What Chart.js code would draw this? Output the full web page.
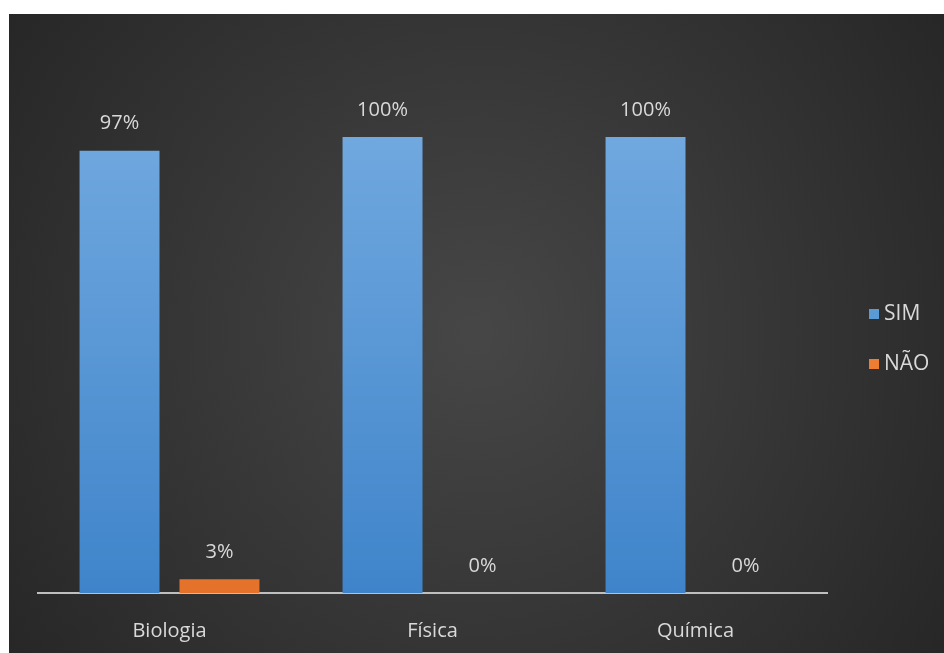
<!DOCTYPE html>
<html>
	<head>
		<meta charset="utf-8">
		<title>SIM / NÃO</title>
		<style>
			html, body { margin: 0; padding: 0; background: #ffffff; }
			#wrap { position: absolute; left: 9px; top: 14px; width: 935px; height: 639px; }
		</style>
	</head>
	<body>
		<div id="wrap"><canvas id="canvasChart"></canvas></div>

		<script src="https://cdn.jsdelivr.net/npm/chart.js"></script>
		<script>
			var categories = ['Biologia', 'Física', 'Química'];
			var simValues = [97, 100, 100];
			var naoValues = [3, 0, 0];
			var seriesNames = ['SIM', 'NÃO'];

			var textColor = '#d9d9d9';
			var fontName = "'Open Sans', sans-serif";

			// vertical gradient for bars, built from the chart area
			function barGradient(ctx, top, bottom) {
				var chart = ctx.chart;
				var area = chart.chartArea;
				if (!area) return bottom;
				var g = chart.ctx.createLinearGradient(0, area.top, 0, area.bottom);
				g.addColorStop(0, top);
				g.addColorStop(1, bottom);
				return g;
			}

			// dark radial background
			var backgroundPlugin = {
				id: 'bg',
				beforeDraw: function(chart) {
					var c = chart.ctx;
					var w = chart.width, h = chart.height;
					var g = c.createRadialGradient(w * 0.5, h * 0.5, 10, w * 0.5, h * 0.5, w * 0.62);
					g.addColorStop(0, '#464646');
					g.addColorStop(1, '#262626');
					c.save();
					c.fillStyle = g;
					c.fillRect(0, 0, w, h);
					c.restore();
				}
			};

			// value labels above the bars
			var valueLabels = {
				id: 'valueLabels',
				afterDatasetsDraw: function(chart) {
					var c = chart.ctx;
					c.save();
					c.fillStyle = textColor;
					c.font = '20px ' + fontName;
					c.textAlign = 'center';
					c.textBaseline = 'middle';
					chart.data.datasets.forEach(function(ds, i) {
						chart.getDatasetMeta(i).data.forEach(function(bar, j) {
							c.fillText(ds.data[j] + '%', bar.x, bar.y - 27);
						});
					});
					c.restore();
				}
			};

			// legend on the right side
			var sideLegend = {
				id: 'sideLegend',
				afterDraw: function(chart) {
					var c = chart.ctx;
					var colors = ['#5b9bd5', '#ed7d31'];
					c.save();
					c.font = '21px ' + fontName;
					c.textBaseline = 'middle';
					chart.data.datasets.forEach(function(ds, i) {
						var y = 300 + i * 50;
						c.fillStyle = colors[i];
						c.fillRect(860, y - 5, 10, 10);
						c.fillStyle = textColor;
						c.fillText(ds.label, 875, y);
					});
					c.restore();
				}
			};

			var chart = new Chart(document.getElementById('canvasChart'), {
				type: 'bar',
				data: {
					labels: categories,
					datasets: [{
						label: seriesNames[0],
						data: simValues,
						backgroundColor: function(ctx) { return barGradient(ctx, '#70a8df', '#3f84ca'); }
					}, {
						label: seriesNames[1],
						data: naoValues,
						backgroundColor: function(ctx) { return barGradient(ctx, '#f58634', '#e5722a'); }
					}]
				},
				plugins: [backgroundPlugin, valueLabels, sideLegend],
				options: {
					responsive: true,
					maintainAspectRatio: false,
					animation: false,
					categoryPercentage: 0.76,
					barPercentage: 0.8,
					layout: {
						padding: { left: 29, right: 117, top: 123, bottom: 0 }
					},
					plugins: {
						legend: { display: false },
						tooltip: { enabled: false }
					},
					scales: {
						y: {
							display: false,
							min: 0,
							max: 100
						},
						x: {
							grid: { display: false },
							border: { display: true, color: '#bfbfbf', width: 2 },
							ticks: {
								color: textColor,
								font: { family: fontName, size: 20 },
								padding: 18
							},
							afterFit: function(scale) { scale.height = 60; }
						}
					}
				}
			});
		</script>
	</body>
</html>
